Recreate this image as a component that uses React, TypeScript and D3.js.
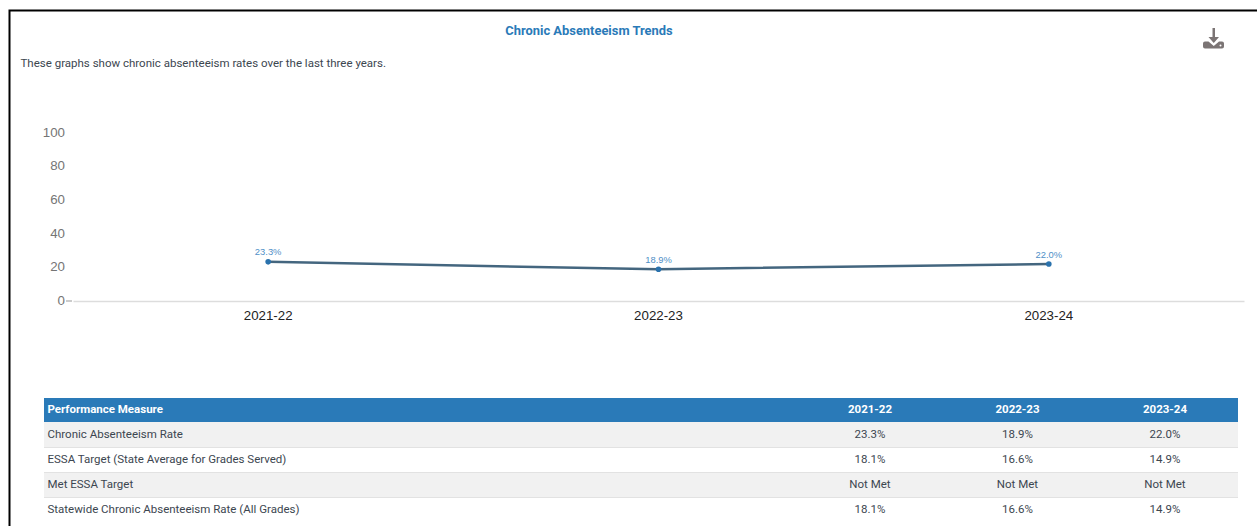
import { useEffect, useRef } from "react";
import * as d3 from "d3";

const years = ["2021-22", "2022-23", "2023-24"];
const rates = [23.3, 18.9, 22.0];
const yTicks = [0, 20, 40, 60, 80, 100];
const measures = [
  "Chronic Absenteeism Rate",
  "ESSA Target (State Average for Grades Served)",
  "Met ESSA Target",
  "Statewide Chronic Absenteeism Rate (All Grades)",
];
const rowValues = [
  ["23.3%", "18.9%", "22.0%"],
  ["18.1%", "16.6%", "14.9%"],
  ["Not Met", "Not Met", "Not Met"],
  ["18.1%", "16.6%", "14.9%"],
];

const width = 1257;
const height = 526;
const uiFont = "Roboto, sans-serif";
const chartFont = "'Liberation Sans', Arial, sans-serif";

export default function App() {
  const svgRef = useRef<SVGSVGElement | null>(null);

  useEffect(() => {
    const svg = d3.select(svgRef.current);
    svg.selectAll("*").remove();

    // page frame
    svg.append("rect").attr("width", width).attr("height", height).attr("fill", "#fff");
    svg.append("path").attr("d", "M9.5,526V10.5H1257").attr("fill", "none").attr("stroke", "#000").attr("stroke-width", 2);

    svg
      .append("text")
      .attr("x", 589)
      .attr("y", 35)
      .attr("text-anchor", "middle")
      .attr("font-family", uiFont)
      .attr("font-size", 12.9)
      .attr("font-weight", 700)
      .attr("fill", "#2a7ab8")
      .text("Chronic Absenteeism Trends");

    svg
      .append("text")
      .attr("x", 20.5)
      .attr("y", 67)
      .attr("font-family", uiFont)
      .attr("font-size", 11.5)
      .attr("fill", "#3c4650")
      .text("These graphs show chronic absenteeism rates over the last three years.");

    // download icon
    const icon = svg.append("g").attr("transform", "translate(1203,28)").attr("fill", "#7b7474");
    icon.append("path").attr("d", "M9.500,0h2.500v9h4l-5.250,6L5.500,9h4z");
    icon
      .append("path")
      .attr("d", "M0,15.500a2,2 0 0 1 2,-2h3.500l5.250,4.500l5.250,-4.500H19a2,2 0 0 1 2,2v3a2,2 0 0 1 -2,2H2a2,2 0 0 1 -2,-2z");
    icon.append("circle").attr("cx", 17.5).attr("cy", 17.5).attr("r", 1).attr("fill", "#fff");

    // chart
    const x = d3.scaleBand<string>().domain(years).range([73, 1244]);
    const y = d3.scaleLinear().domain([0, 100]).range([301, 133]);
    const xc = (d: string) => x(d)! + x.bandwidth() / 2;

    const yAxis = svg
      .append("g")
      .attr("transform", "translate(68,0)")
      .call(d3.axisLeft(y).tickValues(yTicks).tickSize(0).tickPadding(3));
    yAxis.select(".domain").remove();
    yAxis
      .selectAll("text")
      .attr("font-family", chartFont)
      .attr("font-size", 13.3)
      .attr("fill", "#757575")
      .attr("dy", "0.24em");
    svg
      .append("line")
      .attr("x1", 66)
      .attr("x2", 72)
      .attr("y1", y(0))
      .attr("y2", y(0))
      .attr("stroke", "#999");

    const xAxis = svg
      .append("g")
      .attr("transform", `translate(0,${y(0)})`)
      .call(d3.axisBottom(x).tickSize(0).tickPadding(10));
    xAxis.select(".domain").attr("stroke", "#ddd").attr("stroke-width", 1.5);
    xAxis
      .selectAll("text")
      .attr("font-family", chartFont)
      .attr("font-size", 13.3)
      .attr("fill", "#222");

    const line = d3
      .line<number>()
      .x((_, i) => xc(years[i]))
      .y((d) => y(d));
    svg
      .append("path")
      .attr("d", line(rates)!)
      .attr("fill", "none")
      .attr("stroke", "#44667f")
      .attr("stroke-width", 2.5);

    svg
      .selectAll("circle.pt")
      .data(rates)
      .join("circle")
      .attr("class", "pt")
      .attr("cx", (_, i) => xc(years[i]))
      .attr("cy", (d) => y(d))
      .attr("r", 2.8)
      .attr("fill", "#2a72ad");

    svg
      .selectAll("text.val")
      .data(rates)
      .join("text")
      .attr("class", "val")
      .attr("x", (_, i) => xc(years[i]))
      .attr("y", (d) => y(d) - 6.5)
      .attr("text-anchor", "middle")
      .attr("font-family", chartFont)
      .attr("font-size", 9.4)
      .attr("fill", "#4f8fc7")
      .text((d) => d.toFixed(1) + "%");

    // table
    const tableLeft = 44;
    const tableRight = 1238;
    const colX = d3.scaleOrdinal<string, number>().domain(years).range([870, 1017.500, 1165]);

    svg
      .append("rect")
      .attr("x", tableLeft)
      .attr("y", 398)
      .attr("width", tableRight - tableLeft)
      .attr("height", 24)
      .attr("fill", "#2a7ab8");
    svg
      .append("text")
      .attr("x", 47.5)
      .attr("y", 413)
      .attr("font-family", uiFont)
      .attr("font-size", 11.5)
      .attr("font-weight", 700)
      .attr("fill", "#fff")
      .text("Performance Measure");
    years.forEach((yr) => {
      svg
        .append("text")
        .attr("x", colX(yr))
        .attr("y", 413)
        .attr("text-anchor", "middle")
        .attr("font-family", uiFont)
        .attr("font-size", 11.5)
        .attr("font-weight", 700)
        .attr("fill", "#fff")
        .text(yr);
    });

    const rowY = d3.scaleBand<number>().domain([0, 1, 2, 3]).range([422, 522]);
    measures.forEach((m, r) => {
      const top = rowY(r)!;
      const h = rowY.bandwidth();
      svg
        .append("rect")
        .attr("x", tableLeft)
        .attr("y", top)
        .attr("width", tableRight - tableLeft)
        .attr("height", h)
        .attr("fill", r % 2 === 0 ? "#f1f1f1" : "#fff");
      svg
        .append("text")
        .attr("x", 47.5)
        .attr("y", top + 16)
        .attr("font-family", uiFont)
        .attr("font-size", 11.5)
        .attr("fill", "#3c4650")
        .text(m);
      rowValues[r].forEach((v, c) => {
        svg
          .append("text")
          .attr("x", colX(years[c]))
          .attr("y", top + 16)
          .attr("text-anchor", "middle")
          .attr("font-family", uiFont)
          .attr("font-size", 11.5)
          .attr("fill", "#3c4650")
          .text(v);
      });
    });
    // row rules go on top of the fills
    measures.slice(1).forEach((m) => {
      const ry = rowY(measures.indexOf(m))! + 0.5;
      svg
        .append("line")
        .attr("x1", tableLeft)
        .attr("x2", tableRight)
        .attr("y1", ry)
        .attr("y2", ry)
        .attr("stroke", "#e2e2e2");
    });
  }, []);

  return (
    <svg
      ref={svgRef}
      width={width}
      height={height}
      style={{ position: "absolute", left: 0, top: 0, display: "block" }}
    ></svg>
  );
}
